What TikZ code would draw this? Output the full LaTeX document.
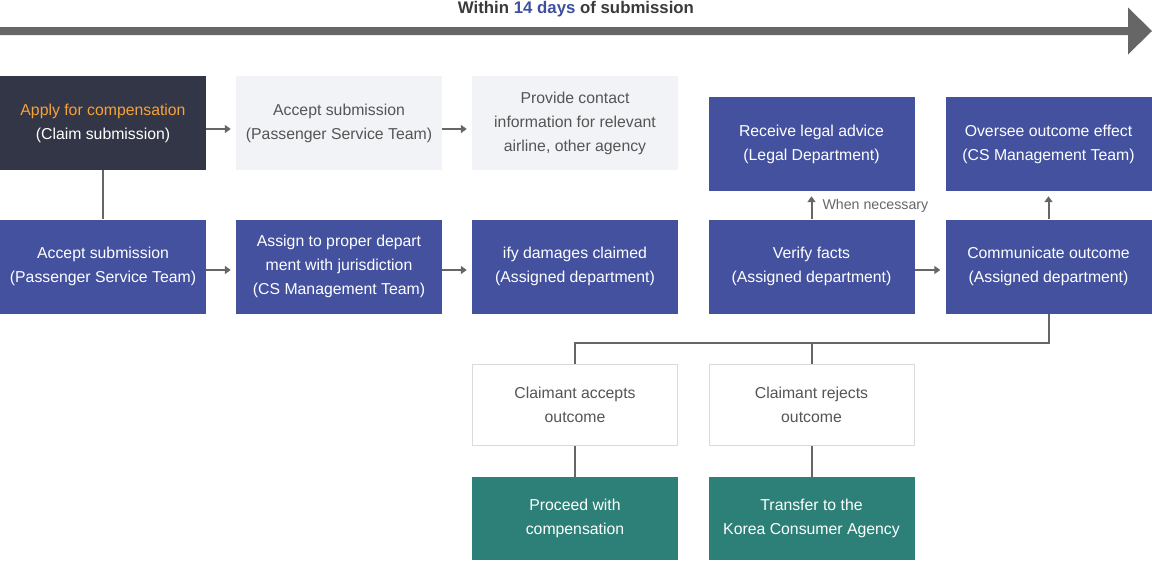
\documentclass[tikz,border=0pt]{standalone}
\usepackage{fontspec}
\setmainfont{Liberation Sans}
\usetikzlibrary{arrows.meta}
\definecolor{darkbox}{HTML}{333646}
\definecolor{bluebox}{HTML}{43519E}
\definecolor{tealbox}{HTML}{2C8077}
\definecolor{lightbox}{HTML}{F2F3F6}
\definecolor{graytext}{HTML}{555555}
\definecolor{lineg}{HTML}{666666}
\definecolor{borderg}{HTML}{DADADA}
\definecolor{orangetext}{HTML}{F5A23A}
\definecolor{titleblue}{HTML}{3F4FA0}
\definecolor{titlegray}{HTML}{3A3A3A}
\begin{document}
\begin{tikzpicture}[x=1pt,y=-1pt,
  box/.style={rectangle, inner sep=0pt, minimum width=206pt, align=center,
    font=\fontsize{15.8}{24}\selectfont},
  darkstep/.style={box, fill=darkbox, text=white, minimum height=94pt},
  lightstep/.style={box, fill=lightbox, text=graytext, minimum height=94pt},
  bluestep/.style={box, fill=bluebox, text=white, minimum height=94pt},
  whitestep/.style={box, fill=white, draw=borderg, line width=1pt, text=graytext, minimum height=81pt, minimum width=205pt},
  tealstep/.style={box, fill=tealbox, text=white, minimum height=83pt},
  conn/.style={draw=lineg, line width=2pt},
  arr/.style={conn, -{Triangle[length=6pt,width=8pt]}, shorten >=5pt},
]
\useasboundingbox (0,0) rectangle (1152,560);

% timeline
\fill[lineg] (0,27) -- (1128,27) -- (1128,7.5) -- (1152,31) -- (1128,54.5) -- (1128,35) -- (0,35) -- cycle;
\node[font=\bfseries\fontsize{16.8}{18}\selectfont, text=titlegray] (title) at (576,9.5) {Within \textcolor{titleblue}{14 days} of submission};

% row 1
\node[darkstep] (A) at (103,123) {\textcolor{orangetext}{Apply for compensation}\\(Claim submission)};
\node[lightstep] (B) at (339,123) {Accept submission\\(Passenger Service Team)};
\node[lightstep] (C) at (575,123) {Provide contact\\information for relevant\\airline, other agency};
\node[bluestep] (D) at (811.5,144) {Receive legal advice\\(Legal Department)};
\node[bluestep] (E) at (1048.5,144) {Oversee outcome effect\\(CS Management Team)};

% row 2
\node[bluestep] (F) at (103,266.5) {Accept submission\\(Passenger Service Team)};
\node[bluestep] (G) at (339,266.5) {Assign to proper depart\\ment with jurisdiction\\(CS Management Team)};
\node[bluestep] (H) at (575,266.5) {ify damages claimed\\(Assigned department)};
\node[bluestep] (I) at (811.5,266.5) {Verify facts\\(Assigned department)};
\node[bluestep] (J) at (1048.5,266.5) {Communicate outcome\\(Assigned department)};

% row 3
\node[whitestep] (K) at (575,405) {Claimant accepts\\outcome};
\node[whitestep] (L) at (811.5,405) {Claimant rejects\\outcome};

% row 4
\node[tealstep] (M) at (575,518.5) {Proceed with\\compensation};
\node[tealstep] (N) at (811.5,518.5) {Transfer to the\\Korea Consumer Agency};

% connectors
\draw[arr] ([yshift=-6pt]A.east) -- ([yshift=-6pt]B.west);
\draw[arr] ([yshift=-6pt]B.east) -- ([yshift=-6pt]C.west);
\draw[conn] (A.south) -- (F.north);
\draw[arr] ([yshift=-3.5pt]F.east) -- ([yshift=-3.5pt]G.west);
\draw[arr] ([yshift=-3.5pt]G.east) -- ([yshift=-3.5pt]H.west);
\draw[arr] ([yshift=-3.5pt]I.east) -- ([yshift=-3.5pt]J.west);
\draw[arr] (I.north) -- (D.south);
\node[anchor=west, text=lineg, font=\fontsize{14.2}{16}\selectfont] (wn) at (819,206) {When necessary};
\draw[arr] (J.north) -- (E.south);
\coordinate (split) at (1048.5,343);
\draw[conn] (J.south) -- (split) -| (K.north);
\draw[conn] (L.north) -- (L.north |- split);
\draw[conn] (K.south) -- (M.north);
\draw[conn] (L.south) -- (N.north);
\end{tikzpicture}
\end{document}
